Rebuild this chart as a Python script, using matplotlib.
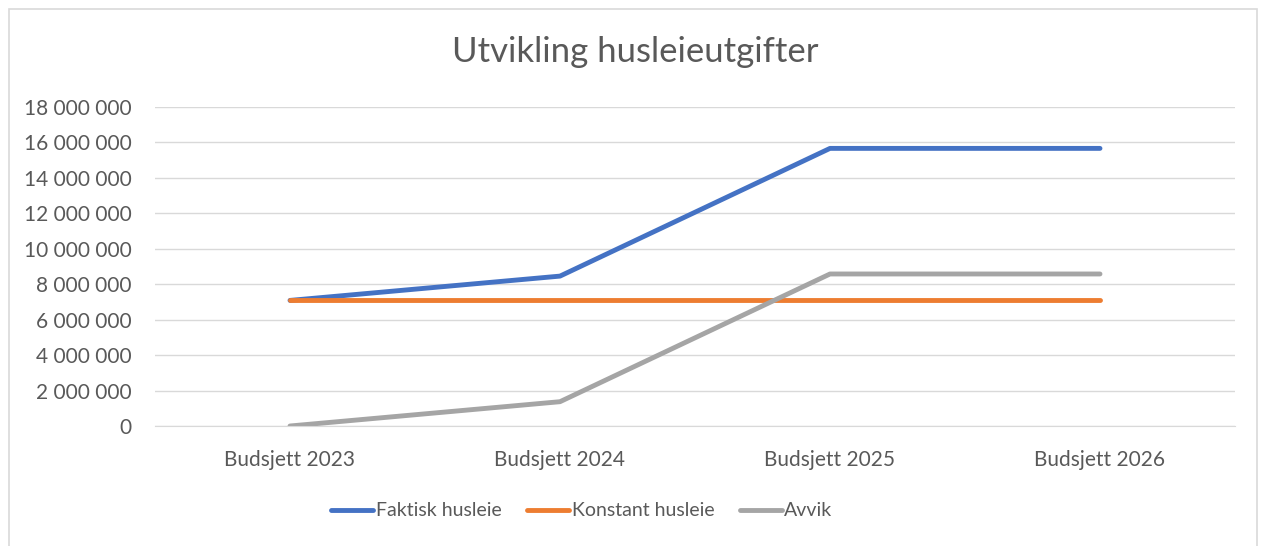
import matplotlib
matplotlib.use("Agg")
import matplotlib.pyplot as plt
from matplotlib.patches import Rectangle
from matplotlib.ticker import FuncFormatter

categories = ["Budsjett 2023", "Budsjett 2024", "Budsjett 2025", "Budsjett 2026"]
faktisk = [7080000, 8450000, 15650000, 15650000]
konstant = [7080000, 7080000, 7080000, 7080000]
avvik = [0, 1370000, 8570000, 8570000]
series_names = ["Faktisk husleie", "Konstant husleie", "Avvik"]
colors = ["#4472C4", "#ED7D31", "#A5A5A5"]

plt.rcParams['font.family'] = ['Lato', 'DejaVu Sans']
txt = "#595959"

W, H = 1266, 546
fig = plt.figure(figsize=(W/100, H/100), dpi=100)
fig.patches.append(Rectangle((9/W, -0.01), (1257-9)/W, 1 - 9/H + 0.01, transform=fig.transFigure,
                             fill=False, edgecolor="#D9D9D9", linewidth=1.2))
ax = fig.add_axes([155/W, 1-426/H, (1235-155)/W, (426-106.7)/H])

x = list(range(len(categories)))
for vals, name, c in zip([faktisk, konstant, avvik], series_names, colors):
    ax.plot(x, vals, color=c, linewidth=3.5, solid_capstyle='round', solid_joinstyle='round', label=name)

ax.set_xlim(-0.5, len(categories) - 0.5)
ax.set_ylim(0, 18000000)
ax.set_yticks(range(0, 18000001, 2000000))
ax.yaxis.set_major_formatter(FuncFormatter(lambda v, p: f"{int(v):,}".replace(",", " ")))
ax.set_xticks(x)
ax.set_xticklabels(categories)
ax.grid(axis='y', color="#D9D9D9", linewidth=1)
ax.set_axisbelow(True)
for s in ax.spines.values():
    s.set_visible(False)
ax.spines['bottom'].set_visible(True)
ax.spines['bottom'].set_color("#D9D9D9")
ax.tick_params(length=0, colors=txt, labelsize=15)
ax.tick_params(axis='y', pad=17)
ax.tick_params(axis='x', pad=17)

fig.text(635/W, 1-52/H, "Utvikling husleieutgifter", ha='center', va='center', fontsize=25, color=txt)

leg = fig.legend(loc='center', bbox_to_anchor=(582/W, 1-511/H), ncol=3, frameon=False,
                 fontsize=14, handlelength=2.15, handletextpad=0.15, columnspacing=1.3, labelcolor=txt)

fig.savefig("out.png", dpi=100)
